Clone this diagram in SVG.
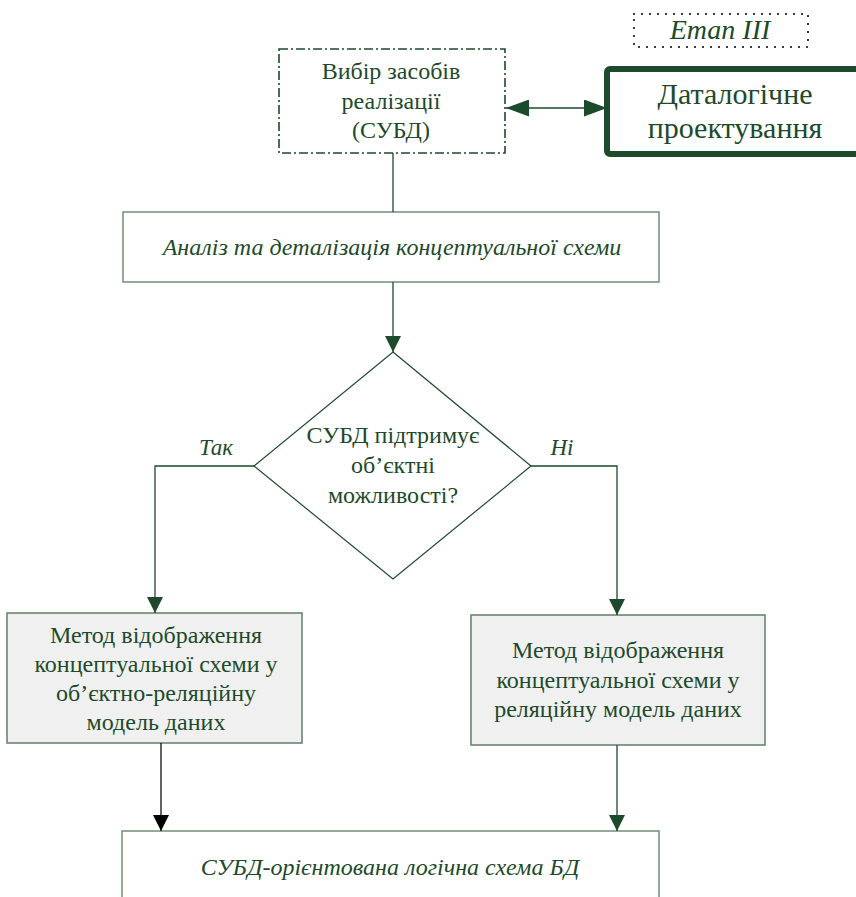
<svg xmlns="http://www.w3.org/2000/svg" width="856" height="897" viewBox="0 0 856 897" font-family="'Liberation Serif', 'Times New Roman', Tinos, 'DejaVu Serif', serif">
<style>
text{font-family:'Liberation Serif','Times New Roman',Tinos,'DejaVu Serif',serif;fill:#1d4a2b;text-anchor:middle}
.it{font-style:italic}
.n24{font-size:24px}
.box{fill:#ffffff;stroke:#6f8f76;stroke-width:1.5}
.mbox{fill:#f0f0f0;stroke:#5f7f66;stroke-width:1.5}
.ln{fill:none;stroke:#1d4a2b;stroke-width:1.3}
.lnk{fill:none;stroke:#111;stroke-width:1.3}
</style>
<defs>
<marker id="ah" markerWidth="16" markerHeight="16" viewBox="0 0 16 16" refX="16" refY="8" orient="auto" markerUnits="userSpaceOnUse"><path d="M0,0 L16,8 L0,16 Z" fill="#1d4a2b"/></marker>
<marker id="ahk" markerWidth="16" markerHeight="16" viewBox="0 0 16 16" refX="16" refY="8" orient="auto" markerUnits="userSpaceOnUse"><path d="M0,0 L16,8 L0,16 Z" fill="#000"/></marker>
<marker id="ahb" markerWidth="23" markerHeight="17" viewBox="0 0 23 17" refX="23" refY="8.5" orient="auto-start-reverse" markerUnits="userSpaceOnUse"><path d="M0,0 L23,8.5 L0,17 Z" fill="#1d4a2b"/></marker>
</defs>

<g id="stage">
<rect x="634" y="14" width="174" height="33" fill="none" stroke="#111" stroke-width="2.2" stroke-dasharray="0 8" stroke-linecap="round"/>
<text class="it" x="720" y="39" font-size="28">Етап ІІІ</text>
</g>

<g id="choose">
<rect x="279" y="49" width="226" height="104" fill="#fff" stroke="#1d4a2b" stroke-width="1.6" stroke-dasharray="9 3 2 3"/>
<text class="n24" x="391" y="79">Вибір засобів</text>
<text class="n24" x="391" y="109">реалізації</text>
<text class="n24" x="391" y="138">(СУБД)</text>
</g>

<g id="datalog">
<rect x="607" y="69" width="270" height="85" rx="3" fill="#fff" stroke="#1d4a2b" stroke-width="6"/>
<text x="735" y="104" font-size="30">Даталогічне</text>
<text x="735" y="138" font-size="30">проектування</text>
</g>

<g id="analysis">
<rect class="box" x="123" y="212" width="536" height="70"/>
<text class="it n24" x="392" y="255">Аналіз та деталізація концептуальної схеми</text>
</g>

<g id="decision">
<polygon points="393,352 531,466 393,579 254,466" fill="#fff" stroke="#1d4a2b" stroke-width="1.2"/>
<text class="n24" x="393" y="443">СУБД підтримує</text>
<text class="n24" x="393" y="473">об’єктні</text>
<text class="n24" x="393" y="503">можливості?</text>
</g>

<g id="method-or">
<rect class="mbox" x="7" y="613" width="295" height="130"/>
<text class="n24" x="156" y="643">Метод відображення</text>
<text class="n24" x="156" y="672">концептуальної схеми у</text>
<text class="n24" x="156" y="701">об’єктно-реляційну</text>
<text class="n24" x="156" y="730">модель даних</text>
</g>

<g id="method-r">
<rect class="mbox" x="471" y="615" width="294" height="130"/>
<text class="n24" x="618" y="658">Метод відображення</text>
<text class="n24" x="618" y="688">концептуальної схеми у</text>
<text class="n24" x="618" y="717">реляційну модель даних</text>
</g>

<g id="result">
<rect class="box" x="122" y="831" width="537" height="90"/>
<text class="it n24" x="390" y="875">СУБД-орієнтована логічна схема БД</text>
</g>

<g id="connectors">
<line class="ln" x1="506" y1="108" x2="607" y2="108" marker-start="url(#ahb)" marker-end="url(#ahb)"/>
<line class="ln" x1="393" y1="153" x2="393" y2="212"/>
<line class="ln" x1="393" y1="282" x2="393" y2="352" marker-end="url(#ah)"/>
<polyline class="ln" points="254,466 155,466 155,613" marker-end="url(#ah)"/>
<polyline class="ln" points="531,466 617,466 617,615" marker-end="url(#ah)"/>
<line class="lnk" x1="161" y1="743" x2="161" y2="831" marker-end="url(#ahk)"/>
<line class="ln" x1="617" y1="745" x2="617" y2="831" marker-end="url(#ah)"/>
<text class="it" x="216" y="455" font-size="23">Так</text>
<text class="it" x="562" y="455" font-size="23">Ні</text>
</g>
</svg>
